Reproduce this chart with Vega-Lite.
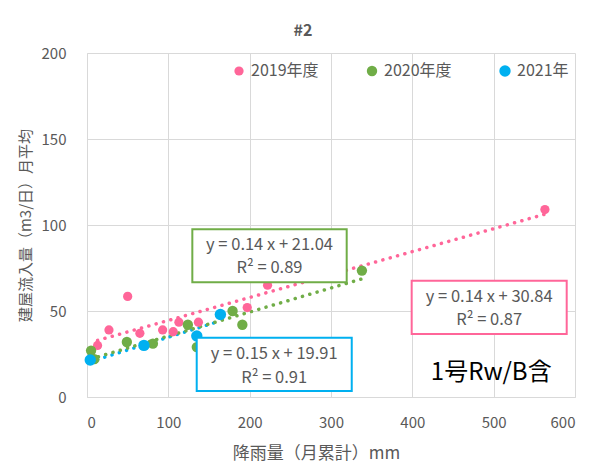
{
  "$schema": "https://vega.github.io/schema/vega-lite/v6.json",
  "width": 488,
  "height": 344,
  "autosize": {"type": "none"},
  "padding": {"left": 87, "top": 53, "right": 21, "bottom": 75},
  "background": "white",
  "title": {"text": "#2", "fontSize": 16, "fontWeight": "bold", "color": "#595959", "font": "Noto Sans CJK JP", "dx": -28, "offset": 7},
  "config": {
    "view": {"stroke": null},
    "font": "Noto Sans CJK JP",
    "axis": {
      "grid": true, "gridColor": "#D9D9D9", "gridWidth": 1,
      "domainColor": "#D9D9D9", "ticks": false,
      "labelFont": "Noto Sans CJK JP", "labelFontSize": 15, "labelColor": "#595959",
      "titleFont": "Noto Sans CJK JP", "titleFontSize": 15, "titleColor": "#595959", "titleFontWeight": "normal"
    },
    "legend": {
      "orient": "none", "legendX": 144, "legendY": 10, "direction": "horizontal",
      "labelFont": "Noto Sans CJK JP", "labelFontSize": 16, "labelColor": "#595959",
      "symbolType": "circle", "symbolSize": 110, "symbolStrokeWidth": 0,
      "columnPadding": 45, "gridAlign": "all", "labelOffset": 4
    }
  },
  "datasets": {
    "points": [
      {"series": "2019年度", "x": 13, "y": 30},
      {"series": "2019年度", "x": 27, "y": 39},
      {"series": "2019年度", "x": 50, "y": 58.5},
      {"series": "2019年度", "x": 65, "y": 37},
      {"series": "2019年度", "x": 93, "y": 39},
      {"series": "2019年度", "x": 106, "y": 38},
      {"series": "2019年度", "x": 113, "y": 43.5},
      {"series": "2019年度", "x": 137, "y": 43.5},
      {"series": "2019年度", "x": 197, "y": 52},
      {"series": "2019年度", "x": 222, "y": 65},
      {"series": "2019年度", "x": 563, "y": 109},
      {"series": "2020年度", "x": 5, "y": 27},
      {"series": "2020年度", "x": 9, "y": 22},
      {"series": "2020年度", "x": 49, "y": 32},
      {"series": "2020年度", "x": 81, "y": 31},
      {"series": "2020年度", "x": 124, "y": 42},
      {"series": "2020年度", "x": 135, "y": 29},
      {"series": "2020年度", "x": 179, "y": 50},
      {"series": "2020年度", "x": 191, "y": 42},
      {"series": "2020年度", "x": 338, "y": 73.5},
      {"series": "2021年", "x": 4, "y": 21.5},
      {"series": "2021年", "x": 70, "y": 30},
      {"series": "2021年", "x": 135, "y": 35.5},
      {"series": "2021年", "x": 164, "y": 48}
    ],
    "boxes": [
      {"series": "2020年度", "x1": 129.5, "x2": 319.3, "y1": 66.7, "y2": 97.5},
      {"series": "2021年", "x1": 134.9, "x2": 325.5, "y1": 3.5, "y2": 34.5},
      {"series": "2019年度", "x1": 399.2, "x2": 589.8, "y1": 36.6, "y2": 67.6}
    ],
    "labels": [
      {"x": 224.4, "y": 88.4, "text": "y = 0.14 x + 21.04"},
      {"x": 224.4, "y": 75, "text": "R² = 0.89"},
      {"x": 230.2, "y": 24.8, "text": "y = 0.15 x + 19.91"},
      {"x": 230.2, "y": 11.2, "text": "R² = 0.91"},
      {"x": 494.5, "y": 58.3, "text": "y = 0.14 x + 30.84"},
      {"x": 494.5, "y": 44.8, "text": "R² = 0.87"}
    ],
    "note": [
      {"x": 497, "y": 14, "text": "1号Rw/B含"}
    ]
  },
  "layer": [
    {
      "data": {"name": "points"},
      "transform": [{"filter": "datum.series === '2021年'"}, {"regression": "y", "on": "x", "groupby": ["series"]}],
      "mark": {"type": "line", "strokeWidth": 3.5, "strokeDash": [0.1, 7.5], "strokeCap": "round"},
      "encoding": {
        "x": {"field": "x", "type": "quantitative", "scale": {"domain": [0, 600], "nice": false}, "axis": {"title": "降雨量（月累計）mm", "values": [0, 100, 200, 300, 400, 500, 600], "labelPadding": 18, "titlePadding": 15, "titleFontSize": 17, "titleX": 229, "titleAnchor": null}},
        "y": {"field": "y", "type": "quantitative", "scale": {"domain": [0, 200], "nice": false}, "axis": {"title": "建屋流入量（m3/日）月平均", "values": [0, 50, 100, 150, 200], "labelPadding": 21, "titlePadding": 8}},
        "color": {"field": "series", "type": "nominal", "scale": {"domain": ["2019年度", "2020年度", "2021年"], "range": ["#FF6699", "#70AD47", "#00B0F0"]}},
        "detail": {"field": "series"}
      }
    },
    {
      "data": {"name": "points"},
      "transform": [{"filter": "datum.series !== '2021年'"}, {"regression": "y", "on": "x", "groupby": ["series"]}],
      "mark": {"type": "line", "strokeWidth": 3.5, "strokeDash": [0.1, 7.5], "strokeCap": "round"},
      "encoding": {
        "x": {"field": "x", "type": "quantitative"},
        "y": {"field": "y", "type": "quantitative"},
        "color": {"field": "series", "type": "nominal", "scale": {"domain": ["2019年度", "2020年度", "2021年"], "range": ["#FF6699", "#70AD47", "#00B0F0"]}},
        "detail": {"field": "series"}
      }
    },
    {
      "data": {"name": "points"},
      "mark": {"type": "circle", "opacity": 1},
      "encoding": {
        "x": {"field": "x", "type": "quantitative"},
        "y": {"field": "y", "type": "quantitative"},
        "color": {"field": "series", "type": "nominal", "scale": {"domain": ["2019年度", "2020年度", "2021年"], "range": ["#FF6699", "#70AD47", "#00B0F0"]}, "legend": {"title": null, "symbolType": "circle"}},
        "size": {"field": "series", "type": "nominal", "scale": {"domain": ["2019年度", "2020年度", "2021年"], "range": [85, 130, 130]}, "legend": null}
      }
    },
    {
      "data": {"name": "boxes"},
      "mark": {"type": "rect", "fill": "white", "strokeWidth": 2},
      "encoding": {
        "x": {"field": "x1", "type": "quantitative"},
        "x2": {"field": "x2"},
        "y": {"field": "y1", "type": "quantitative"},
        "y2": {"field": "y2"},
        "stroke": {"field": "series", "type": "nominal", "scale": {"domain": ["2019年度", "2020年度", "2021年"], "range": ["#FF6699", "#70AD47", "#00B0F0"]}, "legend": null}
      }
    },
    {
      "data": {"name": "labels"},
      "mark": {"type": "text", "fontSize": 16.5, "color": "#595959", "font": "Noto Sans CJK JP", "align": "center", "baseline": "middle"},
      "encoding": {
        "x": {"field": "x", "type": "quantitative"},
        "y": {"field": "y", "type": "quantitative"},
        "text": {"field": "text"}
      }
    },
    {
      "data": {"name": "note"},
      "mark": {"type": "text", "fontSize": 24, "color": "#000000", "font": "Noto Sans CJK JP", "align": "center", "baseline": "middle"},
      "encoding": {
        "x": {"field": "x", "type": "quantitative"},
        "y": {"field": "y", "type": "quantitative"},
        "text": {"field": "text"}
      }
    }
  ]
}
